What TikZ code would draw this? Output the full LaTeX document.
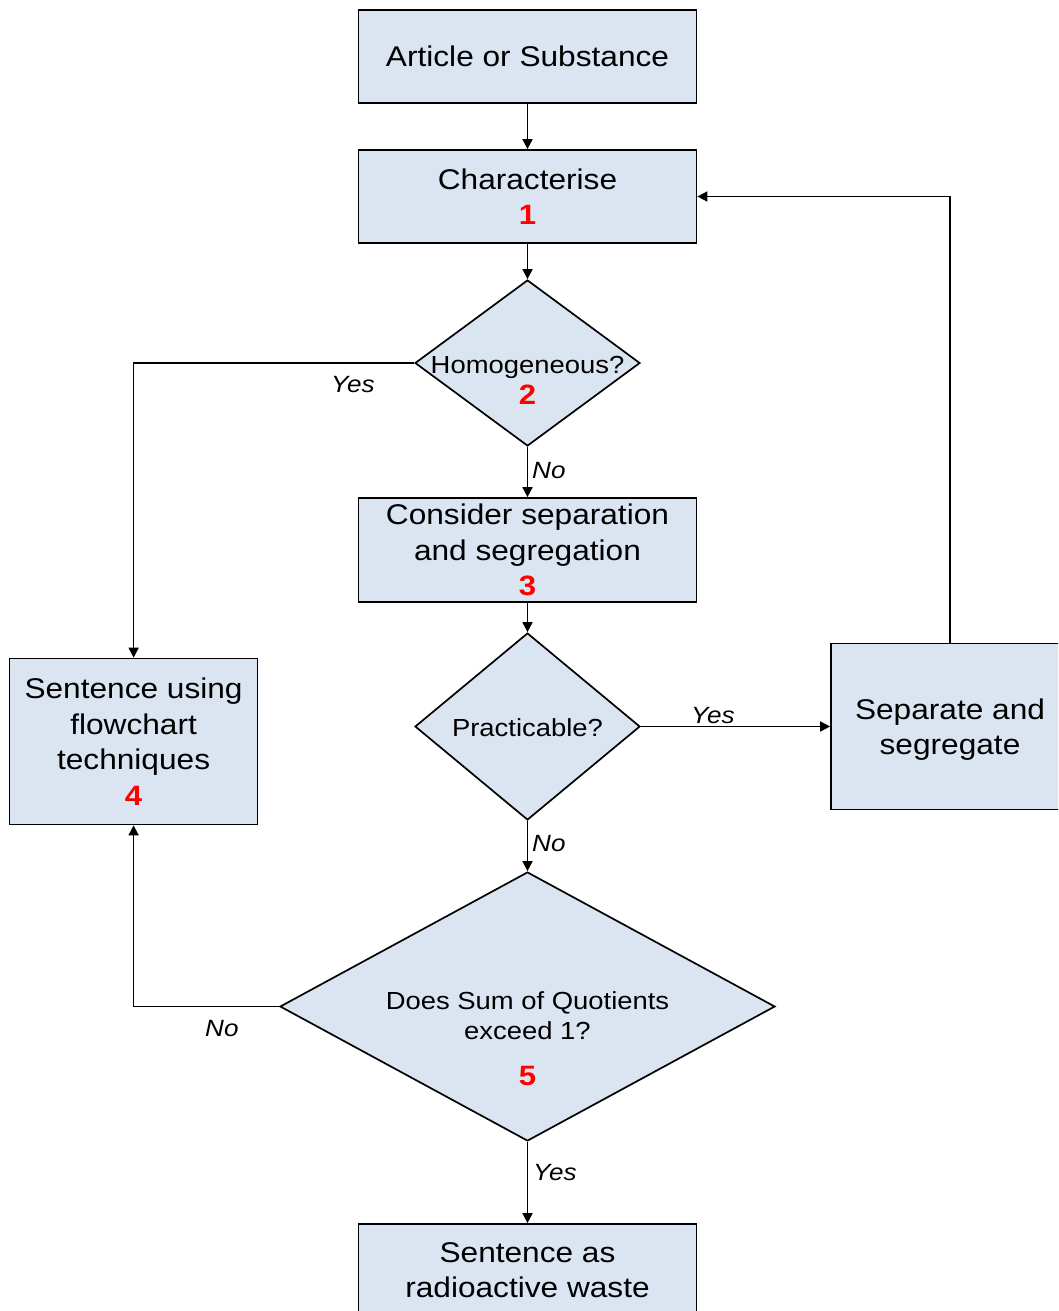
\documentclass[tikz,border=0pt]{standalone}
\usepackage{fontspec}
\setmainfont{Liberation Sans}[FakeStretch=1.11]
\usetikzlibrary{arrows.meta,shapes.geometric}
\definecolor{boxfill}{HTML}{DBE5F1}
\newcommand{\stepnum}[1]{{\fontsize{28}{35}\selectfont\bfseries\color{red}#1}}
\begin{document}
\begin{tikzpicture}[x=1pt,y=-1pt,
  box/.style={draw, line width=1.7pt, fill=boxfill, inner sep=0pt, align=center,
    text depth=0pt, font=\fontsize{28.5}{35.5}\selectfont},
  dec/.style={draw, diamond, line width=1.7pt, fill=boxfill, inner sep=0pt},
  dtext/.style={anchor=base, inner sep=0pt, font=\fontsize{24.7}{30}\selectfont},
  lbl/.style={anchor=base west, inner sep=0pt, font=\fontsize{23.5}{28}\selectfont\itshape},
  arr/.style={line width=1.7pt, -{Triangle[length=10pt,width=10pt]}}]
\useasboundingbox (0,0) rectangle (1058,1311);
\clip (0,0) rectangle (1058,1311);
\fill[white] (0,0) rectangle (1058,1311);

% process boxes
\node[box, minimum width=338pt, minimum height=93pt] (b1) at (527.5,56.5) {Article or Substance};
\node[box, minimum width=338pt, minimum height=93pt] (b2) at (527.5,196.5) {Characterise\\\stepnum{1}};
\node[box, minimum width=338pt, minimum height=104pt] (b3) at (527.5,550) {Consider separation\\and segregation\\\stepnum{3}};
\node[box, minimum width=248pt, minimum height=166pt] (b4) at (133.6,741.5) {Sentence using\\flowchart\\techniques\\\stepnum{4}};
\node[box, minimum width=238pt, minimum height=166pt] (b5) at (950,726.5) {Separate and\\segregate};
\node[box, minimum width=338pt, minimum height=92pt] (b6) at (527.5,1270) {Sentence as\\radioactive waste};

% decisions
\node[dec, minimum width=225pt, minimum height=166pt] (d2) at (527.5,363) {};
\node[dtext] (d2a) at (527.5,373) {Homogeneous?};
\node[dtext] (d2b) at (527.5,404) {\stepnum{2}};

\node[dec, minimum width=225pt, minimum height=187pt] (d3) at (527.5,726.5) {};
\node[dtext] (d3a) at (527.5,736) {Practicable?};

\node[dec, minimum width=495pt, minimum height=269pt] (d5) at (527.5,1006.5) {};
\node[dtext] (d5a) at (527.5,1009) {Does Sum of Quotients};
\node[dtext] (d5b) at (527.5,1039) {exceed 1?};
\node[dtext] (d5c) at (527.5,1085) {\stepnum{5}};

% connectors
\draw[arr] (b1.south) -- (b2.north);
\draw[arr] (b2.south) -- (d2.north);
\draw[arr] (d2.west) -| (b4.north);
\draw[arr] (d2.south) -- (b3.north);
\draw[arr] (b3.south) -- (d3.north);
\draw[arr] (d3.east) -- (d3.east -| b5.west);
\draw[arr] (b5.north) |- (b2.east);
\draw[arr] (d3.south) -- (d5.north);
\draw[arr] (d5.west) -| (b4.south);
\draw[arr] (d5.south) -- (b6.north);

% branch labels
\node[lbl] (l1) at (331,392) {Yes};
\node[lbl] (l2) at (532,478) {No};
\node[lbl] (l3) at (691,723.5) {Yes};
\node[lbl] (l4) at (532,851) {No};
\node[lbl] (l5) at (205,1036) {No};
\node[lbl] (l6) at (533,1180) {Yes};
\end{tikzpicture}
\end{document}
